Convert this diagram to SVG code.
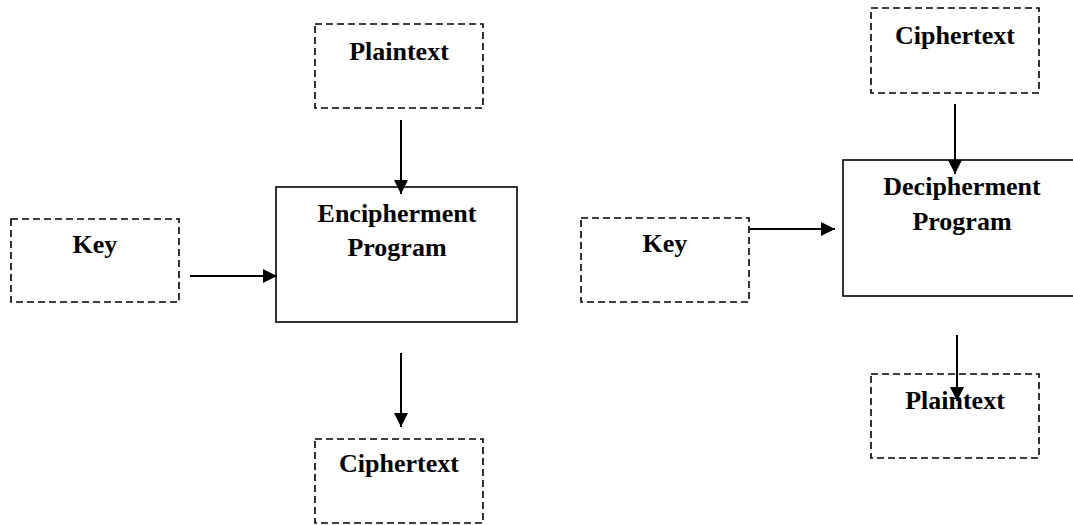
<svg xmlns="http://www.w3.org/2000/svg" width="1073" height="525" viewBox="0 0 1073 525">
<defs>
<marker id="ah" viewBox="0 0 10 10" refX="10" refY="5" markerWidth="14" markerHeight="14" markerUnits="userSpaceOnUse" orient="auto">
<path d="M0,0 L10,5 L0,10 Z" fill="#000"/>
</marker>
<style>
.dash{fill:none;stroke:#000;stroke-width:1.6;stroke-dasharray:7,4}
.solid{fill:none;stroke:#000;stroke-width:1.6}
.t{font-family:"Liberation Serif","Times New Roman",serif;font-weight:bold;font-size:26px;fill:#000;text-anchor:middle}
.c{stroke:#000;stroke-width:2;fill:none}
</style>
</defs>
<rect width="1073" height="525" fill="#fff"/>
<g id="plaintext1"><rect class="dash" x="315" y="24" width="168" height="84"/><text class="t" x="399" y="60">Plaintext</text></g>
<g id="key1"><rect class="dash" x="11" y="219" width="168" height="83"/><text class="t" x="95" y="253">Key</text></g>
<g id="encipher"><rect class="solid" x="276" y="187" width="241" height="135"/><text class="t" x="397" y="222">Encipherment</text><text class="t" x="397" y="256">Program</text></g>
<g id="ciphertext1"><rect class="dash" x="315" y="439" width="168" height="84"/><text class="t" x="399" y="472">Ciphertext</text></g>
<g id="ciphertext2"><rect class="dash" x="871" y="8" width="168" height="85"/><text class="t" x="955" y="44">Ciphertext</text></g>
<g id="key2"><rect class="dash" x="581" y="218" width="168" height="84"/><text class="t" x="665" y="252">Key</text></g>
<g id="decipher"><rect class="solid" x="843" y="160" width="240" height="136"/><text class="t" x="962" y="195">Decipherment</text><text class="t" x="962" y="230">Program</text></g>
<g id="plaintext2"><rect class="dash" x="871" y="374" width="168" height="84"/><text class="t" x="955" y="409">Plaintext</text></g>
<g id="connectors">
<line class="c" x1="401" y1="120" x2="401" y2="194" marker-end="url(#ah)"/>
<line class="c" x1="190" y1="276" x2="277" y2="276" marker-end="url(#ah)"/>
<line class="c" x1="401" y1="353" x2="401" y2="427" marker-end="url(#ah)"/>
<line class="c" x1="955" y1="104" x2="955" y2="174" marker-end="url(#ah)"/>
<line class="c" x1="749" y1="229" x2="835" y2="229" marker-end="url(#ah)"/>
<line class="c" x1="957" y1="335" x2="957" y2="401" marker-end="url(#ah)"/>
</g>
</svg>
